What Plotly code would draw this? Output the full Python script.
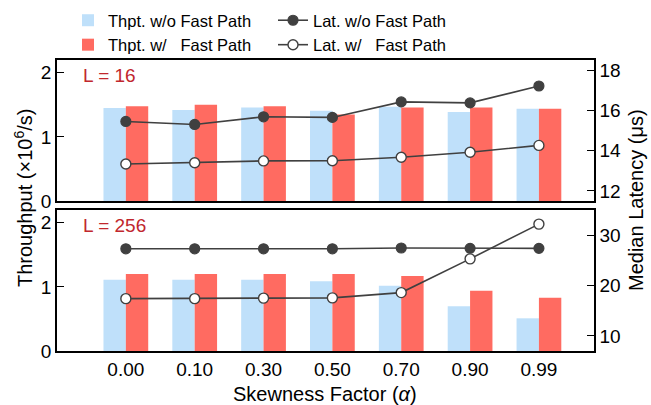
import plotly.graph_objects as go
from plotly.subplots import make_subplots

categories = ["0.00", "0.10", "0.30", "0.50", "0.70", "0.90", "0.99"]

top_thpt_wo = [1.45, 1.42, 1.46, 1.41, 1.47, 1.39, 1.44]
top_thpt_w = [1.48, 1.50, 1.48, 1.35, 1.46, 1.46, 1.44]
top_lat_wo = [15.45, 15.30, 15.68, 15.65, 16.42, 16.37, 17.21]
top_lat_w = [13.34, 13.40, 13.49, 13.50, 13.67, 13.92, 14.26]

bot_thpt_wo = [1.11, 1.11, 1.11, 1.09, 1.02, 0.70, 0.51]
bot_thpt_w = [1.20, 1.20, 1.20, 1.20, 1.17, 0.94, 0.83]
bot_lat_wo = [27.3, 27.3, 27.3, 27.3, 27.45, 27.38, 27.38]
bot_lat_w = [17.4, 17.4, 17.5, 17.55, 18.6, 25.3, 32.2]

left_ticks = [0, 1, 2]
top_right_ticks = [12, 14, 16, 18]
bot_right_ticks = [10, 20, 30]

BLUE = "#bfe0fa"
RED = "#ff6b61"
DARK = "#404040"
FONT = "Liberation Sans, Arial, Helvetica, sans-serif"

W, H = 651, 405
ML, MR, MT, MB = 57, 57, 60, 54
PW = W - ML - MR
PH = H - MT - MB
GAP = 9

fig = make_subplots(rows=2, cols=1, shared_xaxes=True,
                    vertical_spacing=GAP / PH,
                    specs=[[{"secondary_y": True}], [{"secondary_y": True}]])

panels = [
    (1, top_thpt_wo, top_thpt_w, top_lat_wo, top_lat_w, True),
    (2, bot_thpt_wo, bot_thpt_w, bot_lat_wo, bot_lat_w, False),
]
for row, bwo, bw, lwo, lw, show in panels:
    fig.add_trace(go.Bar(x=categories, y=bwo, name="Thpt. w/o Fast Path",
                         marker=dict(color=BLUE, line=dict(width=0)),
                         offsetgroup="a", legend="legend", showlegend=show),
                  row=row, col=1, secondary_y=False)
    fig.add_trace(go.Bar(x=categories, y=bw, name="Thpt. w/\u00a0\u00a0 Fast Path",
                         marker=dict(color=RED, line=dict(width=0)),
                         offsetgroup="b", legend="legend", showlegend=show),
                  row=row, col=1, secondary_y=False)
    fig.add_trace(go.Scatter(x=categories, y=lwo, name="Lat. w/o Fast Path",
                             mode="lines+markers",
                             line=dict(color=DARK, width=1.6),
                             marker=dict(size=10, color=DARK, line=dict(color=DARK, width=1.2)),
                             legend="legend2", showlegend=show),
                  row=row, col=1, secondary_y=True)
    fig.add_trace(go.Scatter(x=categories, y=lw, name="Lat. w/\u00a0\u00a0 Fast Path",
                             mode="lines+markers",
                             line=dict(color=DARK, width=1.6),
                             marker=dict(size=10, color="white", line=dict(color=DARK, width=1.4)),
                             legend="legend2", showlegend=show),
                  row=row, col=1, secondary_y=True)

axis_common = dict(showline=True, linecolor="black", linewidth=1.5,
                   showgrid=False, zeroline=False,
                   tickfont=dict(family=FONT, size=19, color="black"))

fig.update_xaxes(**axis_common, mirror=True, ticks="", range=[-1.0, 6.8],
                 type="category", domain=[0, 1])
fig.update_xaxes(showticklabels=False, row=1, col=1)

top_dom = [(PH - (PH - GAP) / 2) / PH, 1]
bot_dom = [0, ((PH - GAP) / 2) / PH]

yl = dict(ticks="inside", ticklen=7, tickwidth=1.3, tickcolor="black")
fig.update_yaxes(**axis_common, **yl, range=[0, 2.2], tickvals=left_ticks,
                 domain=top_dom, row=1, col=1, secondary_y=False)
fig.update_yaxes(**axis_common, **yl, range=[11.5, 18.5], tickvals=top_right_ticks,
                 row=1, col=1, secondary_y=True)
fig.update_yaxes(**axis_common, **yl, range=[0, 2.2], tickvals=left_ticks,
                 domain=bot_dom, row=2, col=1, secondary_y=False)
fig.update_yaxes(**axis_common, **yl, range=[7, 35], tickvals=bot_right_ticks,
                 row=2, col=1, secondary_y=True)

LEG_TOP = 3
fig.update_layout(
    width=W, height=H,
    margin=dict(l=ML, r=MR, t=MT, b=MB, autoexpand=False),
    paper_bgcolor="white", plot_bgcolor="white",
    barmode="group", bargap=0.35, bargroupgap=0,
    font=dict(family=FONT, size=19, color="black"),
    legend=dict(x=(68 - ML) / PW, y=1 + (MT - LEG_TOP) / PH,
                xanchor="left", yanchor="top", orientation="v",
                bgcolor="rgba(0,0,0,0)", tracegroupgap=0,
                font=dict(family=FONT, size=16.5, color="black")),
    legend2=dict(x=(273 - ML) / PW, y=1 + (MT - LEG_TOP) / PH,
                 xanchor="left", yanchor="top", orientation="v",
                 bgcolor="rgba(0,0,0,0)", tracegroupgap=0,
                 font=dict(family=FONT, size=16.5, color="black")),
    showlegend=True,
)

ann_red = "#c1272d"
fig.add_annotation(text="L = 16", xref="x domain", yref="y domain",
                   x=0.045, y=0.89, xanchor="left", yanchor="middle",
                   showarrow=False, font=dict(family=FONT, size=19, color=ann_red))
fig.add_annotation(text="L = 256", xref="x2 domain", yref="y3 domain",
                   x=0.045, y=0.89, xanchor="left", yanchor="middle",
                   showarrow=False, font=dict(family=FONT, size=19, color=ann_red))

fig.add_annotation(text="Throughput (×10<sup>6</sup>/s)", xref="paper", yref="paper",
                   x=(23 - ML) / PW, y=(H - MB - 198) / PH,
                   xanchor="center", yanchor="middle", textangle=-90,
                   showarrow=False, font=dict(family=FONT, size=20, color="black"))
fig.add_annotation(text="Median Latency (μs)", xref="paper", yref="paper",
                   x=(636 - ML) / PW, y=(H - MB - 200) / PH,
                   xanchor="center", yanchor="middle", textangle=-90,
                   showarrow=False, font=dict(family=FONT, size=20, color="black"))
fig.add_annotation(text="Skewness Factor (<i>α</i>)", xref="paper", yref="paper",
                   x=(325 - ML) / PW, y=-(394 - (H - MB)) / PH,
                   xanchor="center", yanchor="middle",
                   showarrow=False, font=dict(family=FONT, size=20, color="black"))

fig.write_html("out.html", config={"displayModeBar": False},
               post_script="document.body.style.margin='0px';document.body.style.overflow='hidden';")
